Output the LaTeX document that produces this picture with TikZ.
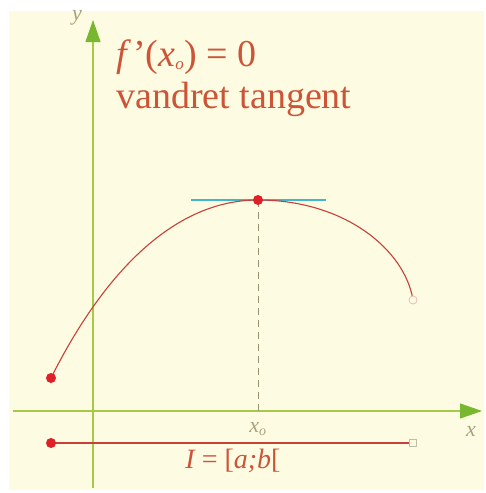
\documentclass[tikz,border=0pt]{standalone}
\usepackage{fontspec}
\setmainfont{Liberation Serif}
\usetikzlibrary{arrows.meta}
\definecolor{bg}{HTML}{FDFCE2}
\definecolor{axisgreen}{HTML}{A4CA48}
\definecolor{arrowgreen}{HTML}{78B830}
\definecolor{curvered}{HTML}{C8403A}
\definecolor{dotred}{HTML}{E02028}
\definecolor{tancyan}{HTML}{40B8C8}
\definecolor{txtred}{HTML}{CC5538}
\definecolor{lblgray}{HTML}{A8A080}
\tikzset{
  axis/.style={draw=axisgreen, line width=1.1pt, -{Triangle[length=22pt,width=15pt,fill=arrowgreen,color=arrowgreen]}},
  curve/.style={draw=curvered, line width=1.1pt},
  filled/.style={circle, fill=dotred, inner sep=0pt, minimum size=10pt},
  hollow/.style={circle, draw=txtred!40, fill=bg, line width=0.8pt, inner sep=0pt, minimum size=8pt},
  hollowsq/.style={rectangle, draw=lblgray!70, fill=bg, line width=0.8pt, inner sep=0pt, minimum size=7pt},
  lbl/.style={text=lblgray, font=\itshape\fontsize{22}{24}\selectfont, inner sep=0pt},
  bigtxt/.style={text=txtred, font=\fontsize{38}{42}\selectfont, inner sep=0pt, anchor=base west},
}
\begin{document}
\begin{tikzpicture}[x=1pt,y=-1pt]
\useasboundingbox (0,0) rectangle (486,493);
\fill[white] (0,0) rectangle (486,493);
\fill[bg] (9,11) rectangle (484,490);
% axes
\coordinate (xs) at (13,411);
\coordinate (xe) at (482,411);
\coordinate (ys) at (93,488);
\coordinate (ye) at (93,20);
\draw[axis] (xs) -- (xe);
\draw[axis] (ys) -- (ye);
\node[lbl] (ylab) at (77,18) {y};
\node[lbl] (xlab) at (471,431) {x};
% points
\coordinate (A) at (51,378);
\coordinate (M) at (258,200);
\coordinate (B) at (413,300);
\coordinate (Mx) at (258,411);
% tangent
\coordinate (T1) at (191,200);
\coordinate (T2) at (326,200);
\draw[draw=tancyan, line width=1.8pt] (T1) -- (T2);
% dashed
\draw[draw=lblgray!90!black, line width=0.9pt, dash pattern=on 7pt off 5pt] (M) -- (Mx);
% curve
\draw[curve] (A) .. controls (100,280) and (170,200) .. (M) .. controls (345,200) and (405,250) .. (B);
\node[filled] (Adot) at (A) {};
\node[filled] (Mdot) at (M) {};
\node[hollow] (Bdot) at (B) {};
% interval
\coordinate (IA) at (51,443);
\coordinate (IB) at (413,443);
\draw[curve] (IA) -- (IB);
\node[filled] (IAdot) at (IA) {};
\node[hollowsq] (IBdot) at (IB) {};
\node[lbl] (x0) at (258,429) {x\textsubscript{\fontsize{14}{14}\selectfont o}};
\node[text=txtred, font=\itshape\fontsize{28}{30}\selectfont, inner sep=0pt] (I) at (233,461) {I {\upshape = [}a;b{\upshape [}};
% texts
\node[bigtxt] (f) at (116,66) {\textit{f\,}'(\textit{x\textsubscript{\fontsize{17}{17}\selectfont o}}) = 0};
\node[bigtxt] (v) at (116,108) {vandret tangent};
\end{tikzpicture}
\end{document}
